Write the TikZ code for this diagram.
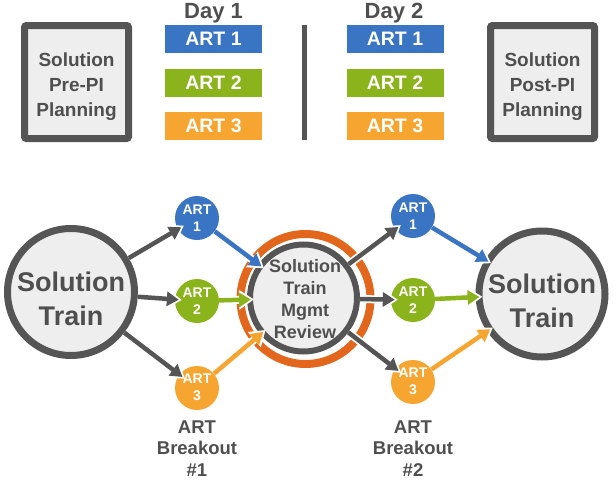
\documentclass[tikz,border=0pt]{standalone}
\usepackage{fontspec}
\setmainfont{Liberation Sans}
\usetikzlibrary{arrows.meta}
\definecolor{artblue}{HTML}{3A75C4}
\definecolor{artgreen}{HTML}{8AB31C}
\definecolor{artorange}{HTML}{F6A531}
\definecolor{ringc}{HTML}{E2661C}
\definecolor{dk}{HTML}{555555}
\definecolor{txt}{HTML}{4F4F4F}
\definecolor{fillg}{HTML}{EEEEEE}
\tikzset{
  bigcirc/.style={circle, draw=dk, fill=fillg, line width=#1, inner sep=0pt},
  bigtext/.style={text=txt, align=center, font=\bfseries\fontsize{27}{34}\selectfont, inner sep=0pt},
  midtext/.style={text=txt, align=center, font=\bfseries\fontsize{18}{22}\selectfont, inner sep=0pt},
  artcirc/.style={circle, fill=#1, minimum size=44pt, inner sep=0pt},
  arttext/.style={text=white, align=center, font=\bfseries\fontsize{14}{17}\selectfont, inner sep=0pt},
  bar/.style={fill=#1, minimum width=97pt, minimum height=28pt, inner sep=0pt, text=white, font=\bfseries\fontsize{19.5}{22}\selectfont},
  daytext/.style={text=txt, font=\bfseries\fontsize{22}{26}\selectfont, inner sep=0pt, anchor=base},
  planbox/.style={draw=dk, fill=fillg, line width=7pt, rounded corners=2pt, minimum width=104pt, minimum height=113pt, inner sep=0pt},
  plantext/.style={text=txt, align=center, font=\bfseries\fontsize{19}{25}\selectfont, inner sep=0pt},
  brktext/.style={text=txt, align=center, font=\bfseries\fontsize{18.5}{21.5}\selectfont, inner sep=0pt},
  conn/.style={draw=#1, line width=4.5pt, -{Triangle[length=12pt,width=14pt]}, shorten >=-4pt,
    preaction={draw=white, line width=8pt, -{Triangle[length=15pt,width=19pt]}, shorten >=-7pt}},
}
\begin{document}
\begin{tikzpicture}[x=1pt,y=-1pt]
\useasboundingbox (0,0) rectangle (616,482);

% ---------- top part ----------
\node[planbox] (pre) at (76.5,82) {};
\node[plantext] (pret) at (76.5,87) {Solution\\Pre-PI\\Planning};
\node[planbox] (post) at (542.5,82) {};
\node[plantext] (postt) at (542.5,87) {Solution\\Post-PI\\Planning};

\node[daytext] (day1) at (213.5,18) {Day 1};
\node[daytext] (day2) at (394,18) {Day 2};

\node[bar=artblue]   (b11) at (213.5,39) {ART 1};
\node[bar=artgreen]  (b12) at (213.5,82.5) {ART 2};
\node[bar=artorange] (b13) at (213.5,126) {ART 3};
\node[bar=artblue]   (b21) at (395,39) {ART 1};
\node[bar=artgreen]  (b22) at (395,82.5) {ART 2};
\node[bar=artorange] (b23) at (395,126) {ART 3};

\coordinate (divt) at (304.5,25);
\coordinate (divb) at (304.5,140);
\draw[dk, line width=5pt] (divt) -- (divb);

% ---------- bottom part ----------
\node[bigcirc=7pt, minimum size=127pt] (st1) at (71,292) {};
\node[bigtext] (st1t) at (71,299) {Solution\\Train};
\node[bigcirc=7pt, minimum size=126pt] (st2) at (542,294) {};
\node[bigtext] (st2t) at (542,301) {Solution\\Train};

\node[circle, draw=ringc, line width=8pt, minimum size=130pt, inner sep=0pt] (ring) at (305.5,299) {};
\node[bigcirc=6pt, minimum size=107pt] (mr) at (303.5,298) {};
\node[midtext] (mrt) at (305,299) {Solution\\Train\\Mgmt\\Review};

\node[artcirc=artblue]   (a11) at (197,218) {};
\node[artcirc=artgreen]  (a12) at (197,301) {};
\node[artcirc=artorange] (a13) at (197,388) {};
\node[artcirc=artblue]   (a21) at (413,216) {};
\node[artcirc=artgreen]  (a22) at (413,300) {};
\node[artcirc=artorange] (a23) at (413,382) {};

% arrows
\draw[conn=dk] (st1) -- (a11);
\draw[conn=dk] (st1) -- (a12);
\draw[conn=dk] (st1) -- (a13);
\draw[conn=artblue]   (a11) -- (mr);
\draw[conn=artgreen]  (a12) -- (mr);
\draw[conn=artorange] (a13) -- (mr);
\draw[conn=dk] (mr) -- (a21);
\draw[conn=dk] (mr) -- (a22);
\draw[conn=dk] (mr) -- (a23);
\draw[conn=artblue]   (a21) -- (st2);
\draw[conn=artgreen]  (a22) -- (st2);
\draw[conn=artorange] (a23) -- (st2);

\node[arttext] (a11t) at (197,218) {ART\\1};
\node[arttext] (a12t) at (197,301) {ART\\2};
\node[arttext] (a13t) at (197,387) {ART\\3};
\node[arttext] (a21t) at (413,216) {ART\\1};
\node[arttext] (a22t) at (413,300) {ART\\2};
\node[arttext] (a23t) at (413,381) {ART\\3};

\node[brktext] (brk1) at (197,448.5) {ART\\Breakout\\\#1};
\node[brktext] (brk2) at (413,448.5) {ART\\Breakout\\\#2};
\end{tikzpicture}
\end{document}
